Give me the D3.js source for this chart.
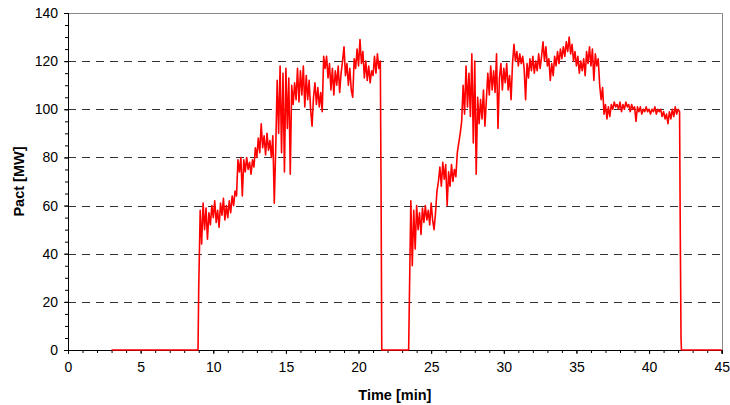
<!DOCTYPE html>
<html>
<head>
<meta charset="utf-8">
<script src="https://cdn.jsdelivr.net/npm/d3@7/dist/d3.min.js"></script>
<style>
  html, body { margin: 0; padding: 0; background: #fff; }
  svg { display: block; }
  text { font-family: "Liberation Sans", Arial, sans-serif; }
</style>
</head>
<body>
<svg id="chart" width="730" height="405"></svg>
<script>
// ---------------- data ----------------
const xTicks = [0, 5, 10, 15, 20, 25, 30, 35, 40, 45];
const yTicks = [0, 20, 40, 60, 80, 100, 120, 140];
const sampleStep = 0.1; // min

// idle before first run
const idleBefore1 = [[3.0, 0], [8.95, 0]];
// run 1 (starts at 9.0 min, sampled every 0.1 min)
const run1Start = 9.0;
const run1Power = [
  26, 58, 44, 61, 50, 59, 46, 57, 52, 60,
  55, 62, 53, 58, 51, 61, 56, 63, 54, 60,
  55, 62, 57, 64, 60, 66, 64, 79, 74, 80,
  64, 79, 74, 80, 75, 78, 73, 79, 76, 84,
  80, 88, 82, 94, 84, 89, 81, 90, 83, 87,
  80, 89, 61, 84, 112, 90, 118, 82, 115, 74,
  117, 92, 113, 73, 110, 102, 111, 104, 117, 103,
  116, 106, 118, 101, 114, 104, 112, 100, 93, 105,
  111, 102, 109, 101, 107, 99, 122, 117, 122, 113,
  119, 108, 117, 106, 116, 110, 118, 107, 115, 120,
  126, 114, 119, 110, 117, 108, 105, 121, 117, 125,
  118, 129, 119, 124, 113, 120, 112, 118, 111, 116,
  114, 122, 115, 123, 117, 120
];
const shutdown1 = [[21.55, 68], [21.6, 0], [23.45, 0]];
// run 2 (starts at 23.5 min, sampled every 0.1 min)
const run2Start = 23.5;
const run2Power = [
  21, 62, 35, 58, 42, 60, 50, 57, 48, 59,
  53, 60, 54, 58, 52, 61, 54, 50, 57, 66,
  70, 76, 68, 78, 71, 77, 60, 74, 68, 77,
  70, 75, 72, 82, 86, 90, 95, 110, 98, 118,
  101, 115, 97, 123, 86, 120, 73, 105, 94, 104,
  96, 108, 93, 104, 115, 106, 118, 108, 116, 107,
  123, 92, 113, 119, 108, 117, 111, 119, 108, 114,
  104, 119, 127, 120, 124, 118, 123, 119, 122, 117,
  104, 119, 113, 121, 116, 122, 115, 120, 116, 123,
  117, 122, 128, 120, 126, 118, 121, 112, 119, 114,
  122, 118, 124, 119, 125, 121, 126, 122, 128, 124,
  130, 123, 127, 120, 124, 118, 122, 115, 120, 116,
  121, 114, 124, 119, 126, 118, 125, 112, 123, 118,
  121, 110, 104, 109, 98, 102, 96, 101, 97, 102,
  100, 103, 101, 102, 100, 103, 99, 102, 100, 103,
  101, 102, 99, 102, 100, 101, 95, 101, 99, 101,
  98, 100, 99, 101, 99, 100, 98, 100, 99, 101,
  98, 100, 99, 100, 97, 99, 96, 98, 94, 99,
  96, 100, 97, 101, 98, 100, 99
];
const shutdown2 = [[42.15, 47], [42.2, 5], [42.23, 0], [45, 0]];

// ---------------- build series ----------------
const series = [
  ...idleBefore1,
  ...run1Power.map((v, i) => [run1Start + i * sampleStep, v]),
  ...shutdown1,
  ...run2Power.map((v, i) => [run2Start + i * sampleStep, v]),
  ...shutdown2
];

// ---------------- layout ----------------
const svg = d3.select("#chart");
const mLeft = 68, mRight = 721.7, mTop = 13, mBottom = 350;

const x = d3.scaleLinear().domain([0, 45]).range([mLeft, mRight]);
const y = d3.scaleLinear().domain([0, 140]).range([mBottom, mTop]);

// gridlines (dashed)
svg.append("g")
  .selectAll("line")
  .data(yTicks.filter(d => d > 0 && d < 140))
  .join("line")
  .attr("x1", mLeft).attr("x2", mRight)
  .attr("y1", d => Math.round(y(d)) + 0.5)
  .attr("y2", d => Math.round(y(d)) + 0.5)
  .attr("stroke", "#333")
  .attr("stroke-width", 1.2)
  .attr("stroke-dasharray", "8,6");

// top and right frame (gray)
svg.append("line")
  .attr("x1", mLeft).attr("x2", mRight)
  .attr("y1", Math.round(y(140)) + 0.5).attr("y2", Math.round(y(140)) + 0.5)
  .attr("stroke", "#888").attr("stroke-width", 1);
svg.append("line")
  .attr("x1", Math.round(x(45)) + 0.5).attr("x2", Math.round(x(45)) + 0.5)
  .attr("y1", mTop).attr("y2", mBottom)
  .attr("stroke", "#888").attr("stroke-width", 1);

// axes
const xAxisMinor = d3.axisBottom(x).tickValues(d3.range(0, 46, 1)).tickSize(3).tickFormat("");
const xAxis = d3.axisBottom(x).tickValues(xTicks).tickSize(4).tickPadding(8).tickFormat(d3.format("d"));
const yAxisMinor = d3.axisLeft(y).tickValues(d3.range(0, 141, 5)).tickSize(3).tickFormat("");
const yAxis = d3.axisLeft(y).tickValues(yTicks).tickSize(4).tickPadding(6).tickFormat(d3.format("d"));

function styleAxis(g) {
  g.select(".domain").attr("stroke", "#000");
  g.selectAll(".tick line").attr("stroke", "#000");
  g.selectAll("text").attr("font-size", 14).attr("fill", "#000")
    .attr("font-family", "'Liberation Sans', Arial, sans-serif");
}

svg.append("g").attr("transform", `translate(0,${mBottom})`).call(xAxisMinor).call(styleAxis);
svg.append("g").attr("transform", `translate(0,${mBottom})`).call(xAxis).call(styleAxis);
svg.append("g").attr("transform", `translate(${mLeft},0)`).call(yAxisMinor).call(styleAxis);
svg.append("g").attr("transform", `translate(${mLeft},0)`).call(yAxis).call(styleAxis);

// data line (drawn over the axes, as in the reference)
const line = d3.line().x(d => x(d[0])).y(d => y(d[1]));
svg.append("path")
  .datum(series)
  .attr("fill", "none")
  .attr("stroke", "#ff0000")
  .attr("stroke-width", 1.6)
  .attr("stroke-linejoin", "round")
  .attr("d", line);

// axis titles
svg.append("text")
  .attr("x", (mLeft + mRight) / 2).attr("y", 400)
  .attr("text-anchor", "middle")
  .attr("font-size", 14.5).attr("font-weight", "bold")
  .text("Time [min]");
svg.append("text")
  .attr("transform", `translate(24,${(mTop + mBottom) / 2}) rotate(-90)`)
  .attr("text-anchor", "middle")
  .attr("font-size", 14.5).attr("font-weight", "bold")
  .text("Pact [MW]");
</script>
</body>
</html>
